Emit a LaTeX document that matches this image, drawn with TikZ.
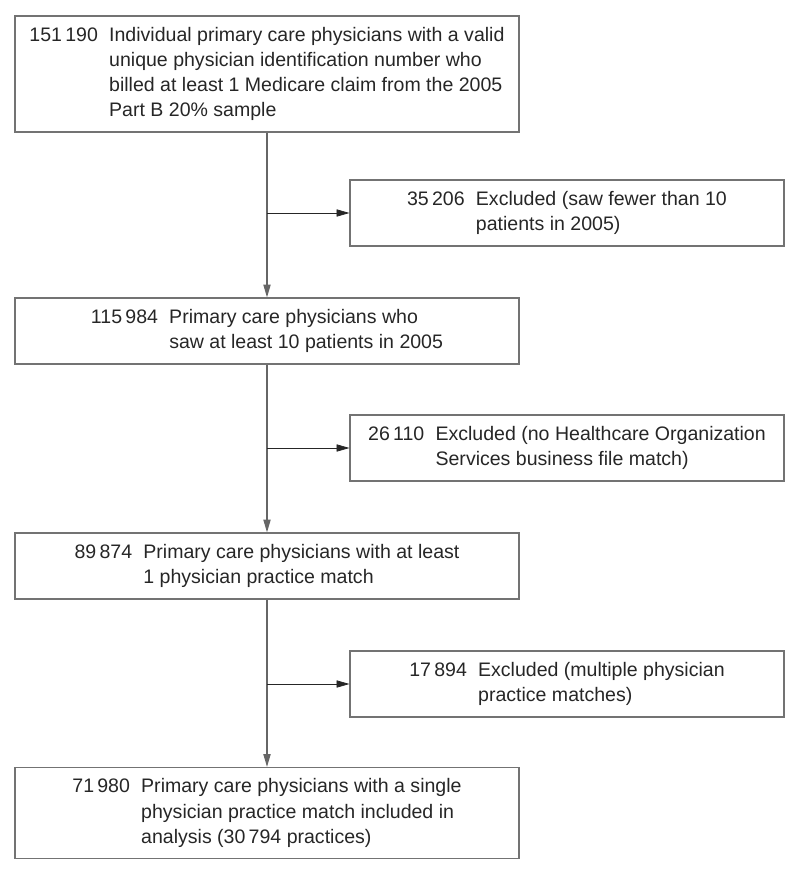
\documentclass[tikz,border=0pt]{standalone}
\usepackage{fontspec}
\setmainfont{Liberation Sans}
\usetikzlibrary{arrows.meta}

\newcommand{\flowtext}[2]{%
  \begin{tabular}{@{}l@{\hspace{8pt}}l@{}}#1 & \begin{tabular}[t]{@{}l@{}}#2\end{tabular}\end{tabular}}

\begin{document}
\begin{tikzpicture}[
    x = 1cm, y = 1cm,
    every node/.style = {font = \fontsize{13.9}{17.8}\selectfont, text = black!85},
    stage/.style = {draw = black!55, line width = 0.8pt, minimum width = 12.6cm, inner ysep = 0.2cm},
    excluded/.style = {stage, minimum width = 10.85cm},
    flow/.style = {draw = black!60, line width = 0.9pt, -{Triangle[length = 0.32cm, width = 0.18cm]}},
    branch/.style = {draw = black!85, line width = 0.5pt, -{Triangle[length = 0.32cm, width = 0.18cm]}}]

\useasboundingbox (0,0) rectangle (20,-21.85);

\path (6.675,-1.85) node[stage](billed) {\flowtext{151\,190}{Individual primary care physicians with a valid\\unique physician identification number who\\billed at least 1 Medicare claim from the 2005\\Part B 20\% sample}}
	  (14.175,-5.325) node[excluded](excl1) {\flowtext{35\,206}{Excluded (saw fewer than 10\\patients in 2005)}}
	  (6.675,-8.275) node[stage](seen) {\flowtext{115\,984}{Primary care physicians who\\saw at least 10 patients in 2005}}
	  (14.175,-11.2) node[excluded](excl2) {\flowtext{26\,110}{Excluded (no Healthcare Organization\\Services business file match)}}
	  (6.675,-14.15) node[stage](matched) {\flowtext{89\,874}{Primary care physicians with at least\\1 physician practice match}}
	  (14.175,-17.1) node[excluded](excl3) {\flowtext{17\,894}{Excluded (multiple physician\\practice matches)}}
	  (6.675,-20.325) node[stage](single) {\flowtext{71\,980}{Primary care physicians with a single\\physician practice match included in\\analysis (30\,794 practices)}}
	  ;

\draw[flow] (billed) -- (seen);
\draw[flow] (seen) -- (matched);
\draw[flow] (matched) -- (single);
\draw[branch] (billed.south |- excl1.west) -- (excl1);
\draw[branch] (seen.south |- excl2.west) -- (excl2);
\draw[branch] (matched.south |- excl3.west) -- (excl3);
\end{tikzpicture}
\end{document}
